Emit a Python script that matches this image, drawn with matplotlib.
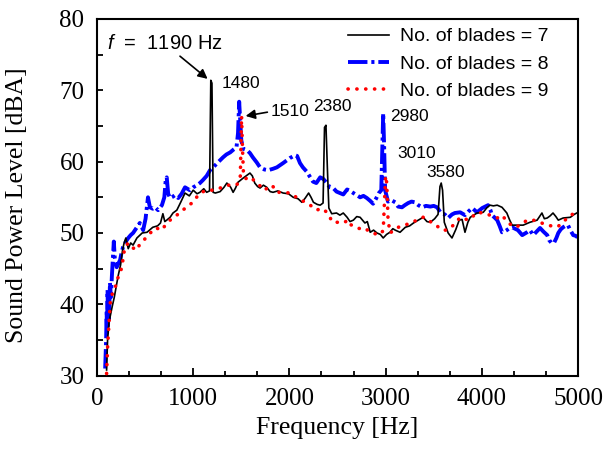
import matplotlib
matplotlib.use('Agg')
import matplotlib.pyplot as plt
from matplotlib.ticker import MultipleLocator

plt.rcParams['mathtext.fontset'] = 'custom'
plt.rcParams['mathtext.it'] = 'Liberation Sans:italic'
plt.rcParams['mathtext.rm'] = 'Liberation Sans'

SERIF = 'Liberation Serif'
SANS = 'Liberation Sans'

# ── data (Hz, dBA) ──
f7 = [100, 110, 125, 140, 160, 180, 200, 220, 245, 265, 280, 300, 325, 350, 375, 415, 470, 520, 580, 630,
      660, 685, 705, 725, 760, 790, 830, 870, 915, 960, 1000, 1040, 1070, 1110, 1140, 1170, 1183, 1195, 1207,
      1230, 1280, 1320, 1350, 1390, 1415, 1440, 1465, 1520, 1560, 1590, 1615, 1640, 1670, 1695, 1730, 1765,
      1800, 1830, 1880, 1935, 1990, 2040, 2090, 2130, 2165, 2200, 2225, 2250, 2290, 2320, 2350, 2365, 2380,
      2395, 2410, 2440, 2490, 2525, 2560, 2600, 2630, 2665, 2700, 2735, 2785, 2810, 2840, 2875, 2910, 2945,
      2975, 3010, 3045, 3075, 3100, 3150, 3205, 3250, 3290, 3340, 3390, 3430, 3465, 3510, 3545, 3565, 3578,
      3592, 3610, 3650, 3690, 3730, 3765, 3795, 3825, 3855, 3880, 3950, 4015, 4050, 4085, 4120, 4160, 4210,
      4260, 4290, 4315, 4365, 4430, 4500, 4575, 4625, 4650, 4680, 4710, 4740, 4770, 4795, 4845, 4920, 4960, 5000]
L7 = [30.8, 35, 37.5, 38.5, 39.8, 41, 42.5, 44, 45.5, 47.5, 48.5, 49.3, 47.8, 48.6, 48.3, 49.3, 50, 50.1, 50.8, 51,
      51.4, 52.7, 51.6, 51.8, 52.2, 52.8, 53.2, 54.3, 55.6, 55.2, 56, 55.5, 55.7, 56.2, 55.7, 55.9, 71.4, 71.0, 55.7,
      55.6, 55.8, 56.4, 57, 56.4, 55.7, 56.3, 57.1, 57.7, 58.1, 58.4, 58.0, 57, 56.5, 56.3, 56.7, 56.4,
      55.8, 55.7, 55.9, 55.6, 55.5, 55, 54.8, 54.3, 54.9, 55.6, 55.0, 54.3, 54.0, 53.9, 54.2, 64.8, 65.1,
      59, 53.5, 52.7, 52.8, 52.5, 52.8, 52.2, 51.6, 51.8, 52.3, 52.2, 51.4, 51.6, 50.1, 50.4, 50.0, 49.8,
      49.3, 49.8, 50.1, 50.6, 50.4, 50.1, 50.8, 51.0, 51.4, 51.8, 52.2, 51.6, 51.5, 52.0, 52.6, 56.5, 57.0,
      56.0, 51.5, 50.0, 49.3, 50.5, 51.8, 51.9, 50.1, 51.5, 52.2, 52.8, 52.9, 53.5, 53.9, 53.8, 53.9, 53.6,
      52.8, 51.8, 51.1, 51.1, 51.1, 51.5, 51.8, 52.8, 52.0, 52.1, 52.4, 52.8, 52.3, 51.8, 52.1, 52.2, 52.6, 52.9]

f8 = [85, 95, 100, 105, 110, 115, 120, 125, 135, 145, 155, 165, 175, 185, 205, 225, 240, 255, 270, 300, 325, 350,
      375, 395, 415, 445, 480, 505, 530, 550, 580, 605, 635, 675, 700, 715, 725, 740, 760, 790, 810, 845, 880,
      915, 965, 1000, 1040, 1070, 1100, 1140, 1175, 1215, 1250, 1280, 1310, 1345, 1385, 1420, 1450, 1466, 1478,
      1488, 1500, 1520, 1560, 1590, 1620, 1660, 1695, 1740, 1780, 1830, 1870, 1935, 2005, 2060, 2080, 2110,
      2140, 2180, 2245, 2280, 2320, 2350, 2390, 2420, 2455, 2490, 2525, 2560, 2600, 2630, 2665, 2700, 2735,
      2770, 2805, 2840, 2870, 2900, 2930, 2955, 2968, 2975, 2985, 2995, 3025, 3060, 3100, 3130, 3170, 3200,
      3235, 3270, 3305, 3340, 3380, 3420, 3465, 3500, 3535, 3570, 3615, 3650, 3690, 3720, 3775, 3825, 3860,
      3900, 3950, 4005, 4035, 4065, 4090, 4105, 4130, 4160, 4185, 4210, 4235, 4260, 4290, 4315, 4345, 4375,
      4400, 4420, 4445, 4470, 4500, 4520, 4535, 4570, 4605, 4640, 4680, 4700, 4725, 4750, 4775, 4795, 4820,
      4845, 4870, 4895, 4920, 4950, 4975, 4995]
L8 = [31, 35, 39, 36, 42, 37, 41, 38, 43, 41, 44, 46.5, 48.8, 46.5, 45.2, 45.8, 46.2, 47.2, 48, 48.8, 49.3, 49.7,
      50, 50.4, 50.8, 51.4, 50.4, 52.0, 55.0, 53.6, 53.4, 53.6, 53.2, 53.9, 55.0, 57.5, 57.8, 55.5, 54.9, 55.1, 55.3, 54.9, 55.5,
      56.4, 56, 56.4, 56.7, 57.0, 57.4, 58.0, 58.8, 59.3, 59.8, 60.2, 60.6, 61.0, 61.3, 61.7, 62.0, 64, 68.4,
      66, 63, 61.8, 61.6, 61.2, 60.6, 59.9, 59.2, 58.9, 58.8, 59.0, 59.2, 59.8, 60.5, 60.9, 60.8, 59.8,
      59.2, 58.6, 57.2, 57.0, 57.8, 57.6, 57.0, 56.4, 56.3, 55.8, 55.6, 55.4, 56.1, 55.9, 55.6, 55.3, 55.0,
      55.2, 54.9, 54.5, 54.1, 54.8, 55.6, 56, 63, 66.8, 62, 56, 54.4, 54.6, 54.3, 53.7, 53.6, 53.9,
      54.2, 54.4, 54.3, 53.9, 53.6, 53.8, 53.7, 53.8, 53.6, 52.9, 52.6, 52.1, 52.6, 52.8, 52.9, 52.5, 53.0,
      53.5, 52.9, 53.5, 53.7, 53.9, 53.2, 52.5, 52.2, 51.8, 51.0, 50.1, 50.2, 50.4, 50.7, 50.8, 50.6, 50.4,
      50.0, 49.7, 49.9, 50.1, 50.4, 50.0, 49.7, 50.2, 50.7, 50.2, 49.7, 49.0, 48.6, 48.6, 49.3, 50, 50.5,
      50.8, 51.0, 51.1, 50.4, 49.7, 49.6, 49.4]

f9 = [100, 110, 125, 140, 160, 185, 200, 220, 240, 260, 275, 290, 325, 350, 375, 415, 440, 470, 500, 530, 570,
      605, 640, 675, 700, 730, 760, 790, 830, 865, 900, 935, 965, 1000, 1035, 1070, 1105, 1140, 1175, 1205,
      1240, 1280, 1315, 1350, 1385, 1415, 1440, 1465, 1490, 1503, 1512, 1522, 1545, 1580, 1620, 1660, 1695,
      1730, 1775, 1820, 1845, 1870, 1935, 2005, 2045, 2080, 2140, 2180, 2215, 2250, 2285, 2320, 2350, 2380,
      2400, 2420, 2450, 2490, 2525, 2560, 2610, 2630, 2665, 2700, 2740, 2785, 2820, 2860, 2890, 2920, 2950,
      2975, 2990, 3000, 3012, 3025, 3045, 3080, 3115, 3150, 3180, 3220, 3255, 3290, 3330, 3360, 3390, 3430,
      3465, 3500, 3535, 3570, 3605, 3640, 3670, 3705, 3740, 3775, 3820, 3860, 3905, 3950, 4015, 4085, 4120,
      4160, 4210, 4240, 4275, 4310, 4345, 4400, 4440, 4470, 4535, 4605, 4640, 4680, 4720, 4760, 4800, 4845,
      4880, 4920, 4960, 4990, 5000]
L9 = [30.3, 33.9, 37.4, 40.6, 41.5, 42, 43, 43.8, 44.5, 45.2, 46.8, 48, 48.6, 48.2, 47.9, 47.6, 48.3, 48.7, 49.2, 49.7, 50.2,
      50.7, 50.6, 50.4, 50.9, 51.4, 51.8, 52.1, 52.5, 52.9, 53.3, 53.6, 54.0, 54.3, 55.0, 55.6, 55.8, 56, 56.0, 56.0,
      56.1, 56.3, 56.5, 56.7, 56.7, 56.7, 56.7, 56.9, 58.0, 66.4, 62, 58.5, 57.6, 57.9, 57.5, 57.1, 56.6,
      56.0, 56.3, 56.7, 56.2, 55.7, 55.7, 55.6, 55.3, 54.9, 54.5, 54.1, 53.9, 53.6, 53.2, 53.4, 53.4, 53.0,
      52.7, 52.2, 51.5, 51.5, 51.5, 51.4, 51.8, 51.2, 51.0, 50.7, 50.6, 50.7, 50.3, 50.0, 49.9, 49.7, 50.0,
      50.3, 55.0, 58.0, 57.0, 52.0, 50.0, 50.3, 50.7, 50.9, 51.1, 51.2, 51.4, 51.6, 51.8, 52.0, 52.2, 52.0,
      51.6, 51.2, 51.0, 50.5, 50.4, 50.4, 50.7, 51.1, 51.6, 52.2, 52.0, 51.8, 52.3, 52.9, 52.8, 52.5, 52.3,
      52.1, 52.5, 52.0, 51.4, 51.1, 50.8, 51.1, 51.5, 51.8, 51.8, 51.5, 51.3, 51.1, 51.0, 50.8, 51.0, 51.5,
      52.0, 52.5, 52.7, 52.9, 53.0]

labels = ['No. of blades = 7', 'No. of blades = 8', 'No. of blades = 9']

fig = plt.figure(figsize=(6.05, 4.51), dpi=100)
ax = fig.add_axes([0.1603, 0.167, 0.7951, 0.791])

ax.plot(f7, L7, color='black', lw=1.2, label=labels[0], zorder=3)
ax.plot(f8, L8, color='#0000FF', lw=2.8, ls=(0, (5.0, 1.0, 0.8, 1.0)), label=labels[1], zorder=2)
ax.plot(f9, L9, color='#FF0000', lw=2.6, ls=(0, (0.05, 2.4)), dash_capstyle='round',
        label=labels[2], zorder=4)

ax.set_xlim(0, 5000)
ax.set_ylim(30, 80)
ax.xaxis.set_major_locator(MultipleLocator(1000))
ax.xaxis.set_minor_locator(MultipleLocator(1000 / 3))
ax.yaxis.set_major_locator(MultipleLocator(10))
ax.yaxis.set_minor_locator(MultipleLocator(5))
ax.tick_params(which='both', direction='in', top=False, right=False, width=1.3)
ax.tick_params(axis='x', which='major', length=6, pad=9)
ax.tick_params(axis='x', which='minor', length=3.5)
ax.tick_params(axis='y', which='major', length=4, pad=9)
ax.tick_params(axis='y', which='minor', length=4)
for lab in ax.get_xticklabels() + ax.get_yticklabels():
    lab.set_fontfamily(SERIF)
    lab.set_fontsize(18)
for sp in ax.spines.values():
    sp.set_linewidth(1.5)

ax.set_xlabel('Frequency [Hz]', fontfamily=SERIF, fontsize=18.5, labelpad=5)
ax.set_ylabel('Sound Power Level [dBA]', fontfamily=SERIF, fontsize=18.5)
ax.yaxis.set_label_coords(-0.143, 0.479)

leg = ax.legend(loc='upper left', bbox_to_anchor=(0.522, 0.975), frameon=False,
                prop={'family': SANS, 'size': 14}, handlelength=2.1, handletextpad=0.55,
                labelspacing=0.5, borderpad=0, borderaxespad=0)

ann = dict(fontfamily=SANS, fontsize=12.5, va='center', ha='left')
arrow = dict(arrowstyle='-|>', color='black', lw=1.2, mutation_scale=14, shrinkA=0, shrinkB=0)
ax.annotate('$f$  =  1190 Hz', xy=(1150, 71.6), xytext=(106, 76.5), fontfamily=SANS, fontsize=14.5,
            va='center', ha='left', arrowprops=dict(arrow, relpos=(0.6, 0.0)))
ax.text(1300, 71.0, '1480', **ann)
ax.annotate('1510', xy=(1545, 66.4), xytext=(1800, 67.0), arrowprops=dict(arrow, relpos=(0, 0.5)), **ann)
ax.text(2245, 67.7, '2380', **ann)
ax.text(3045, 66.3, '2980', **ann)
ax.text(3120, 61.2, '3010', **ann)
ax.text(3420, 58.5, '3580', **ann)

fig.savefig('out.png', dpi=100)
